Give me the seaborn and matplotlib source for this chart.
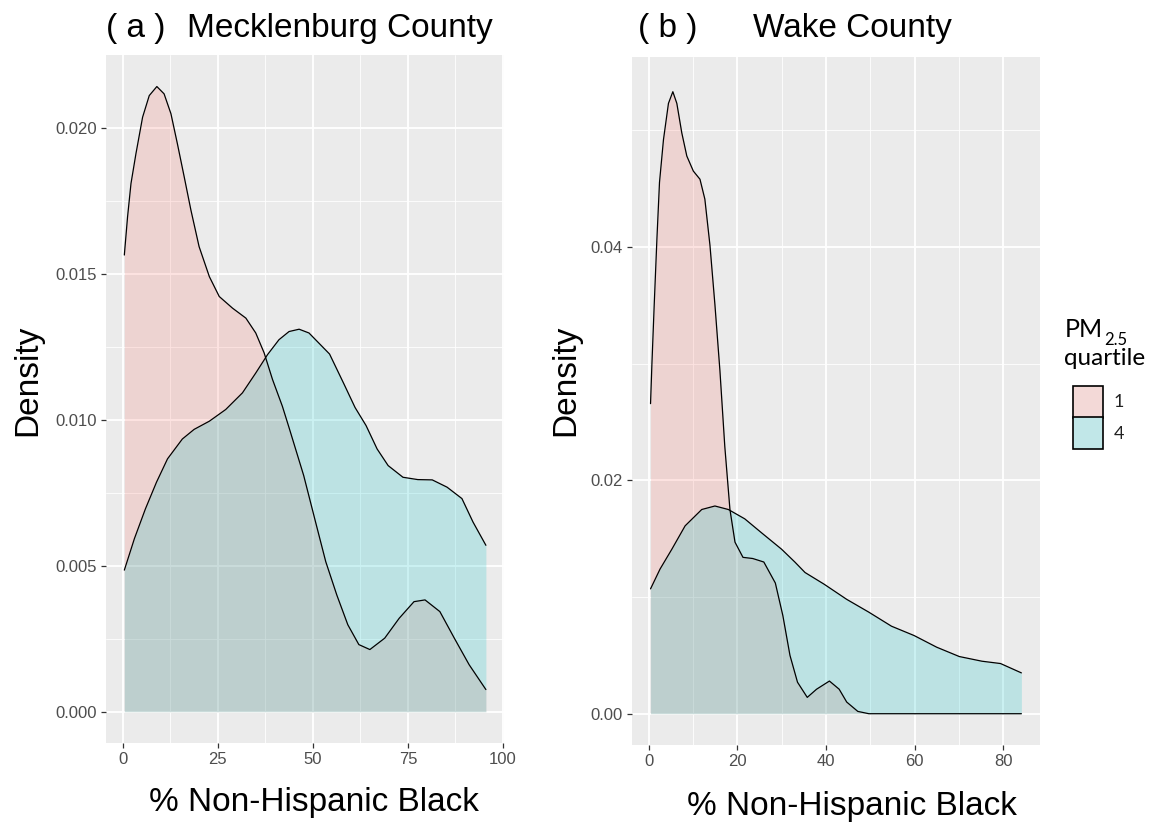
import numpy as np
import pandas as pd
import matplotlib
matplotlib.use("Agg")
import matplotlib.pyplot as plt
import seaborn as sns
from matplotlib.patches import Rectangle
from matplotlib.text import Annotation
from matplotlib.ticker import FixedLocator, FormatStrFormatter

# ---------------- data ----------------
quartiles = ["1", "4"]
quartile_colors = ["#F8766D", "#00BFC4"]

# Panel (a) Mecklenburg County
meck_q1_x = [0.45, 1.3, 2.2, 3.5, 5.25, 7.0, 9.0, 10.9, 12.7, 14.4, 16.2, 17.95, 20.1,
             22.8, 25.4, 28.9, 32.4, 35.0, 37.2, 39.4, 42.0, 43.75, 47.6, 50.5, 53.4,
             56.3, 59.2, 62.1, 65.0, 68.9, 72.7, 76.6, 79.5, 83.4, 87.2, 91.1, 95.5]
meck_q1_d = [0.01564, 0.01695, 0.01809, 0.01911, 0.02036, 0.02110, 0.02141, 0.02116,
             0.02048, 0.01945, 0.01831, 0.01718, 0.01593, 0.01490, 0.01422, 0.01382,
             0.01348, 0.01297, 0.01229, 0.01138, 0.01046, 0.00973, 0.00809, 0.00661,
             0.00514, 0.00400, 0.00298, 0.00230, 0.00213, 0.00252, 0.00320, 0.00377,
             0.00383, 0.00343, 0.00252, 0.00161, 0.00076]
meck_q4_x = [0.45, 3.1, 6.0, 8.9, 11.8, 15.7, 18.8, 22.8, 27.1, 31.5, 35.0, 38.1, 41.1,
             43.75, 46.4, 49.0, 54.4, 58.2, 61.1, 64.0, 66.9, 69.8, 73.7, 77.6, 81.4,
             85.3, 89.2, 92.1, 95.5]
meck_q4_d = [0.00485, 0.00593, 0.00695, 0.00786, 0.00866, 0.00934, 0.00967, 0.00995,
             0.01035, 0.01092, 0.01160, 0.01223, 0.01274, 0.01302, 0.01310, 0.01297,
             0.01225, 0.01122, 0.01042, 0.00980, 0.00900, 0.00843, 0.00803, 0.00795,
             0.00794, 0.00769, 0.00730, 0.00650, 0.00570]

# Panel (b) Wake County
wake_q1_x = [0.45, 0.76, 1.28, 1.89, 2.47, 3.37, 4.49, 5.48, 6.38, 7.5, 8.63, 10.1,
             11.6, 12.7, 13.85, 14.97, 16.1, 17.2, 18.36, 19.5, 21.3, 23.5, 26.0, 28.6,
             30.3, 31.9, 33.6, 35.8, 37.9, 40.8, 43.0, 44.7, 47.2, 49.7, 84.1]
wake_q1_d = [0.02657, 0.02997, 0.03506, 0.04071, 0.04553, 0.04920, 0.05230, 0.05330,
             0.05230, 0.04977, 0.04779, 0.04650, 0.04580, 0.04410, 0.04015, 0.03506,
             0.02940, 0.02290, 0.01750, 0.01470, 0.01340, 0.01330, 0.01300, 0.01120,
             0.00840, 0.00500, 0.00270, 0.00140, 0.00210, 0.00280, 0.00210, 0.00100,
             0.00020, 0.00000, 0.00000]
wake_q4_x = [0.45, 2.6, 5.26, 8.25, 12.0, 14.97, 18.0, 21.7, 25.5, 30.0, 33.0, 35.3,
             39.6, 44.7, 49.7, 54.8, 59.9, 65.0, 70.1, 75.2, 79.4, 84.1]
wake_q4_d = [0.0107, 0.0124, 0.0141, 0.0161, 0.0175, 0.0178, 0.0175, 0.0167, 0.0155,
             0.0141, 0.0130, 0.0121, 0.0111, 0.0098, 0.0087, 0.0075, 0.0067, 0.0057,
             0.0049, 0.0045, 0.0043, 0.0035]

meck_xticks = [0, 25, 50, 75, 100]
meck_yticks = [0.000, 0.005, 0.010, 0.015, 0.020]
wake_xticks = [0, 20, 40, 60, 80]
wake_yticks = [0.00, 0.02, 0.04]

titles = [("( a )", "Mecklenburg County"), ("( b )", "Wake County")]
x_title = "% Non-Hispanic Black"
y_title = "Density"

# ---------------- style ----------------
sns.set_theme(style="darkgrid", rc={
    "axes.facecolor": "#EBEBEB",
    "grid.color": "white",
    "axes.edgecolor": "none",
    "figure.facecolor": "white",
    "text.color": "black",
    "axes.labelcolor": "black",
})
plt.rcParams["font.family"] = ["Liberation Sans", "DejaVu Sans"]

W, H = 1152, 825
fig = plt.figure(figsize=(W / 100, H / 100), dpi=100)


def rect(l, r, t, b):
    return [l / W, 1 - b / H, (r - l) / W, (b - t) / H]


ax1 = fig.add_axes(rect(106, 504, 55, 743))
ax2 = fig.add_axes(rect(631.7, 1040, 56.7, 745))


def frame(xs, ds, q):
    return pd.DataFrame({"x": xs, "density": ds, "quartile": q})


panels = [
    (ax1, [frame(meck_q1_x, meck_q1_d, "1"), frame(meck_q4_x, meck_q4_d, "4")],
     (-4.37, 100.26), (-0.00107, 0.02249), meck_xticks, meck_yticks,
     [12.5, 37.5, 62.5, 87.5], [0.0025, 0.0075, 0.0125, 0.0175], "%.3f",
     (0.523, -0.0872), (-0.197, 0.5276)),
    (ax2, [frame(wake_q1_x, wake_q1_d, "1"), frame(wake_q4_x, wake_q4_d, "4")],
     (-3.8, 88.3), (-0.00268, 0.0563), wake_xticks, wake_yticks,
     [10, 30, 50, 70], [0.01, 0.03, 0.05], "%.2f",
     (0.5395, -0.090), (-0.161, 0.530)),
]

for (ax, dfs, xl, yl, xt, yt, xmin, ymin, fmt, xlab_pos, ylab_pos) in panels:
    for df, col in zip(dfs, quartile_colors):
        ax.fill_between(df["x"], df["density"], 0, color=col, alpha=0.2, lw=0,
                        zorder=2)
        sns.lineplot(data=df, x="x", y="density", ax=ax, color="black", lw=0.9,
                     sort=False, estimator=None, zorder=3)
    ax.set_xlim(*xl)
    ax.set_ylim(*yl)
    ax.xaxis.set_major_locator(FixedLocator(xt))
    ax.yaxis.set_major_locator(FixedLocator(yt))
    ax.xaxis.set_minor_locator(FixedLocator(xmin))
    ax.yaxis.set_minor_locator(FixedLocator(ymin))
    ax.yaxis.set_major_formatter(FormatStrFormatter(fmt))
    ax.grid(which="major", color="white", lw=1.3, zorder=0)
    ax.grid(which="minor", color="white", lw=0.6, zorder=0)
    ax.set_axisbelow(True)
    ax.tick_params(which="major", bottom=True, left=True, length=3.6, width=0.9,
                   color="#333333", labelsize=12, labelcolor="#4D4D4D", pad=3)
    ax.tick_params(which="minor", length=0)
    for s in ax.spines.values():
        s.set_visible(False)
    ax.set_xlabel(x_title, fontsize=24, color="black")
    ax.set_ylabel(y_title, fontsize=24, color="black")
    ax.xaxis.set_label_coords(*xlab_pos)
    ax.yaxis.set_label_coords(*ylab_pos)
    ax.xaxis.label.set_va("center")
    ax.yaxis.label.set_va("center")
    ax.yaxis.label.set_ha("center")

# titles
base = 1 - 37 / H
fig.text(106.5 / W, base, titles[0][0], fontsize=24, va="baseline", ha="left")
fig.text(187 / W, base, titles[0][1], fontsize=24, va="baseline", ha="left")
fig.text(638 / W, base, titles[1][0], fontsize=24, va="baseline", ha="left")
fig.text(752.7 / W, base, titles[1][1], fontsize=24, va="baseline", ha="left")

# legend
lf = ["Lato", "DejaVu Sans"]
pm = fig.text(1065 / W, 1 - 337 / H, "PM", fontsize=18, family=lf, va="baseline")
fig.add_artist(Annotation("2.5", xy=(1, 0), xycoords=pm, xytext=(0.5, -3),
                          textcoords="offset points", fontsize=12, family=lf,
                          va="baseline", ha="left"))
fig.text(1064 / W, 1 - 365 / H, "quartile", fontsize=17.5, family=lf, va="baseline")
key_tops = [386, 417.5]
for q, col, top in zip(quartiles, quartile_colors, key_tops):
    for fc, a in (("#F2F2F2", 1.0), (col, 0.2)):
        fig.add_artist(Rectangle((1073.3 / W, 1 - (top + 31.5) / H), 30 / W, 31.5 / H,
                                 transform=fig.transFigure, facecolor=fc, alpha=a,
                                 edgecolor="none"))
    fig.add_artist(Rectangle((1073.3 / W, 1 - (top + 31.5) / H), 30 / W, 31.5 / H,
                             transform=fig.transFigure, facecolor="none",
                             edgecolor="black", lw=1.2))
    fig.text(1114 / W, 1 - (top + 16) / H, q, fontsize=13, family=lf,
             va="center", ha="left", color="#222222")

fig.savefig("out.png", dpi=100)
